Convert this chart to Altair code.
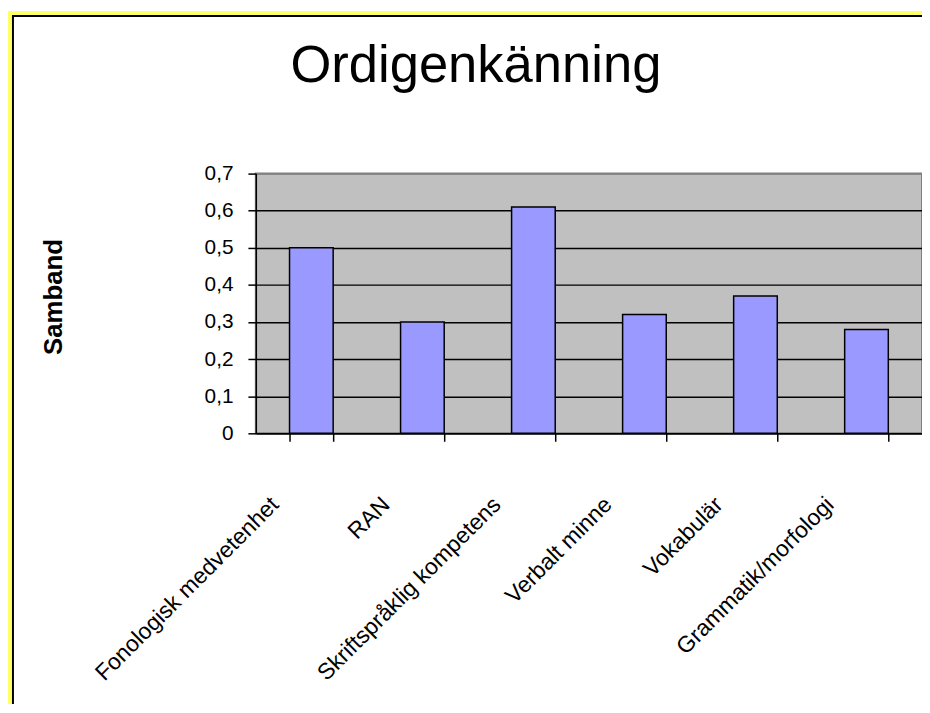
import altair as alt
import pandas as pd

# ---- data ----
categories = ["Fonologisk medvetenhet", "RAN", "Skriftspråklig kompetens",
              "Verbalt minne", "Vokabulär", "Grammatik/morfologi"]
values = [0.50, 0.30, 0.61, 0.32, 0.37, 0.28]
y_ticks = [0, 0.1, 0.2, 0.3, 0.4, 0.5, 0.6, 0.7]
title_text = "Ordigenkänning"
y_title = "Samband"

df = pd.DataFrame({"kategori": categories, "samband": values})
frame_df = pd.DataFrame({"t": [title_text]})

FONT = "Liberation Sans"
W, H = 672, 262

bars = alt.Chart(df).mark_bar(
    fill="#9999FF", stroke="black", strokeWidth=1.5
).encode(
    x=alt.X("kategori:N", sort=None,
            scale=alt.Scale(paddingInner=0.607, paddingOuter=0.3035),
            axis=alt.Axis(title=None, labelAngle=-45, labelAlign="right",
                          labelBaseline="middle", labelOffset=-37,
                          labelPadding=60, labelFontSize=23, labelLimit=0,
                          labelOverlap=False, tickBand="extent", tickSize=8,
                          tickWidth=1.5, tickColor="black", domainColor="black",
                          domainWidth=1.5, grid=False)),
    y=alt.Y("samband:Q",
            scale=alt.Scale(domain=[0, 0.7], nice=False),
            axis=alt.Axis(title=y_title, values=y_ticks,
                          labelExpr="datum.value == 0 ? '0' : replace(format(datum.value, '.1f'), '.', ',')",
                          labelFontSize=21, labelPadding=15, tickSize=8,
                          tickWidth=1.5, tickColor="black", domainColor="black",
                          domainWidth=1.5, grid=True,
                          gridColor=alt.condition("datum.value >= 0.7", alt.value("#808080"), alt.value("black")),
                          gridWidth=1.5, gridOpacity=1,
                          titleFontSize=26, titleFontWeight="bold", titleAngle=270,
                          titleAlign="center", titleBaseline="middle",
                          titleX=-204, titleY=124)),
)

# outer frame: yellow band and black line around the chart area
yellow = alt.Chart(frame_df).mark_rect(
    fillOpacity=0, stroke="#FFFF66", strokeWidth=4
).encode(x=alt.value(-248), x2=alt.value(W + 200), y=alt.value(-162), y2=alt.value(H + 400))
black = alt.Chart(frame_df).mark_rect(
    fillOpacity=0, stroke="black", strokeWidth=2
).encode(x=alt.value(-245), x2=alt.value(W + 200), y=alt.value(-159), y2=alt.value(H + 400))

# chart title
title = alt.Chart(frame_df).mark_text(
    font=FONT, fontSize=53, color="black", align="center", baseline="alphabetic"
).encode(text="t:N", x=alt.value(222), y=alt.value(-92))

chart = alt.layer(yellow, black, title, bars).properties(
    width=W, height=H,
    autosize=alt.AutoSizeParams(type="none"),
    padding={"left": 250, "top": 164, "right": 0, "bottom": 270},
    background="white",
).configure_view(
    fill="#C0C0C0", stroke="#808080", strokeWidth=2
).configure_axis(
    labelFont=FONT, titleFont=FONT, labelColor="black", titleColor="black"
)

chart.save("out.html", embed_options={"renderer": "svg", "actions": False})
